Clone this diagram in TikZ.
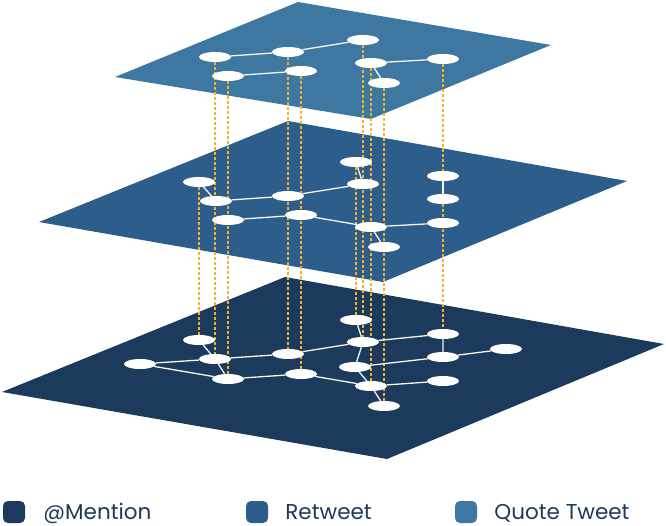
\documentclass[tikz,border=0pt]{standalone}
\usepackage{fontspec}
\setmainfont{Poppins}
\usetikzlibrary{shapes.geometric, positioning}
\definecolor{mentionblue}{HTML}{1B3A5C}
\definecolor{retweetblue}{HTML}{2D5D8A}
\definecolor{quoteblue}{HTML}{3E78A0}
\definecolor{tiegold}{HTML}{F2B233}
\pgfdeclarelayer{back}
\pgfdeclarelayer{mid}
\pgfsetlayers{back,mid,main}

\begin{document}
\begin{tikzpicture}[x=1pt, y=-1pt,
    user/.style={ellipse, fill=white, minimum width=32pt, minimum height=10pt, inner sep=0pt},
    link/.style={white!92!gray, line width=1.3pt},
    tie/.style={tiegold, line width=1.2pt, dash pattern=on 3pt off 2pt},
    keybox/.style={rounded corners=5pt, minimum size=22pt, inner sep=0pt},
    keytext/.style={text=mentionblue, font=\fontsize{21.5}{24}\selectfont, inner sep=0pt,
        text height=15pt, text depth=0pt}]
    \useasboundingbox (0,0) rectangle (666,526);

    % 平面
    \begin{pgfonlayer}{back}
    \fill[mentionblue] (285,277) -- (664,344) -- (387,459) -- (2,392) -- cycle;
    \fill[retweetblue] (288,121) -- (627,181) -- (383,282) -- (39,222) -- cycle;
    \fill[quoteblue] (298,2) -- (551,45) -- (371,119) -- (115,77) -- cycle;
    \end{pgfonlayer}

    % 上层 (Quote Tweet)
    \node[user] (A1) at (215,57) {};
    \node[user] (A2) at (288,52) {};
    \node[user] (A3) at (363,40) {};
    \node[user] (A4) at (228,76) {};
    \node[user] (A5) at (301,71) {};
    \node[user] (A6) at (371,63) {};
    \node[user] (A7) at (443,59) {};
    \node[user] (A8) at (384,83) {};

    % 中层 (Retweet)
    \node[user] (B1) at (199,182) {};
    \node[user] (B2) at (216,201) {};
    \node[user] (B3) at (288,196) {};
    \node[user] (B4) at (228,220) {};
    \node[user] (B5) at (301,215) {};
    \node[user] (B6) at (356,162) {};
    \node[user] (B7) at (363,184) {};
    \node[user] (B8) at (443,176) {};
    \node[user] (B9) at (443,199) {};
    \node[user] (B10) at (371,227) {};
    \node[user] (B11) at (443,223) {};
    \node[user] (B12) at (384,247) {};

    % 下层 (@Mention)
    \node[user] (C1) at (199,340) {};
    \node[user] (C2) at (215,359) {};
    \node[user] (C3) at (140,364) {};
    \node[user] (C4) at (228,379) {};
    \node[user] (C5) at (288,354) {};
    \node[user] (C6) at (301,374) {};
    \node[user] (C7) at (356,320) {};
    \node[user] (C8) at (363,342) {};
    \node[user] (C9) at (443,334) {};
    \node[user] (C10) at (443,357) {};
    \node[user] (C11) at (506,349) {};
    \node[user] (C12) at (355,367) {};
    \node[user] (C13) at (371,386) {};
    \node[user] (C14) at (443,381) {};
    \node[user] (C15) at (384,406) {};

    % 层间虚线
    \begin{pgfonlayer}{mid}
    \draw[tie] (A1.center) -- (C2.center);
    \draw[tie] (A4.center) -- (C4.center);
    \draw[tie] (A2.center) -- (C5.center);
    \draw[tie] (A5.center) -- (C6.center);
    \draw[tie] (A3.center) -- (C8.center);
    \draw[tie] (A6.center) -- (C13.center);
    \draw[tie] (A8.center) -- (C15.center);
    \draw[tie] (A7.center) -- (C9.center);
    \draw[tie] (B1.center) -- (C1.center);
    \draw[tie] (B6.center) -- (C7.center);

    % 连线
    \draw[link] (A1) -- (A2) -- (A3);
    \draw[link] (A4) -- (A5);
    \draw[link] (A6) -- (A7);
    \draw[link] (A6) -- (A8);
    \draw[link] (B1) -- (B2) -- (B3) -- (B7) -- (B6);
    \draw[link] (B4) -- (B5) -- (B10) -- (B11);
    \draw[link] (B10) -- (B12);
    \draw[link] (B8) -- (B9);
    \draw[link] (C1) -- (C2) -- (C4) -- (C6) -- (C13) -- (C14);
    \draw[link] (C3) -- (C2) -- (C5) -- (C8) -- (C9) -- (C10) -- (C11);
    \draw[link] (C3) -- (C4);
    \draw[link] (C7) -- (C8) -- (C12) -- (C13) -- (C15);
    \draw[link] (C12) -- (C10);
    \end{pgfonlayer}

    % 图例
    \node[keybox, fill=mentionblue] (k1) at (14,512) {};
    \node[keytext, right=18pt of k1] (t1) {@Mention};
    \node[keybox, fill=retweetblue] (k2) at (257,512) {};
    \node[keytext, right=17pt of k2] (t2) {Retweet};
    \node[keybox, fill=quoteblue] (k3) at (466,512) {};
    \node[keytext, right=17pt of k3] (t3) {Quote Tweet};
\end{tikzpicture}
\end{document}
